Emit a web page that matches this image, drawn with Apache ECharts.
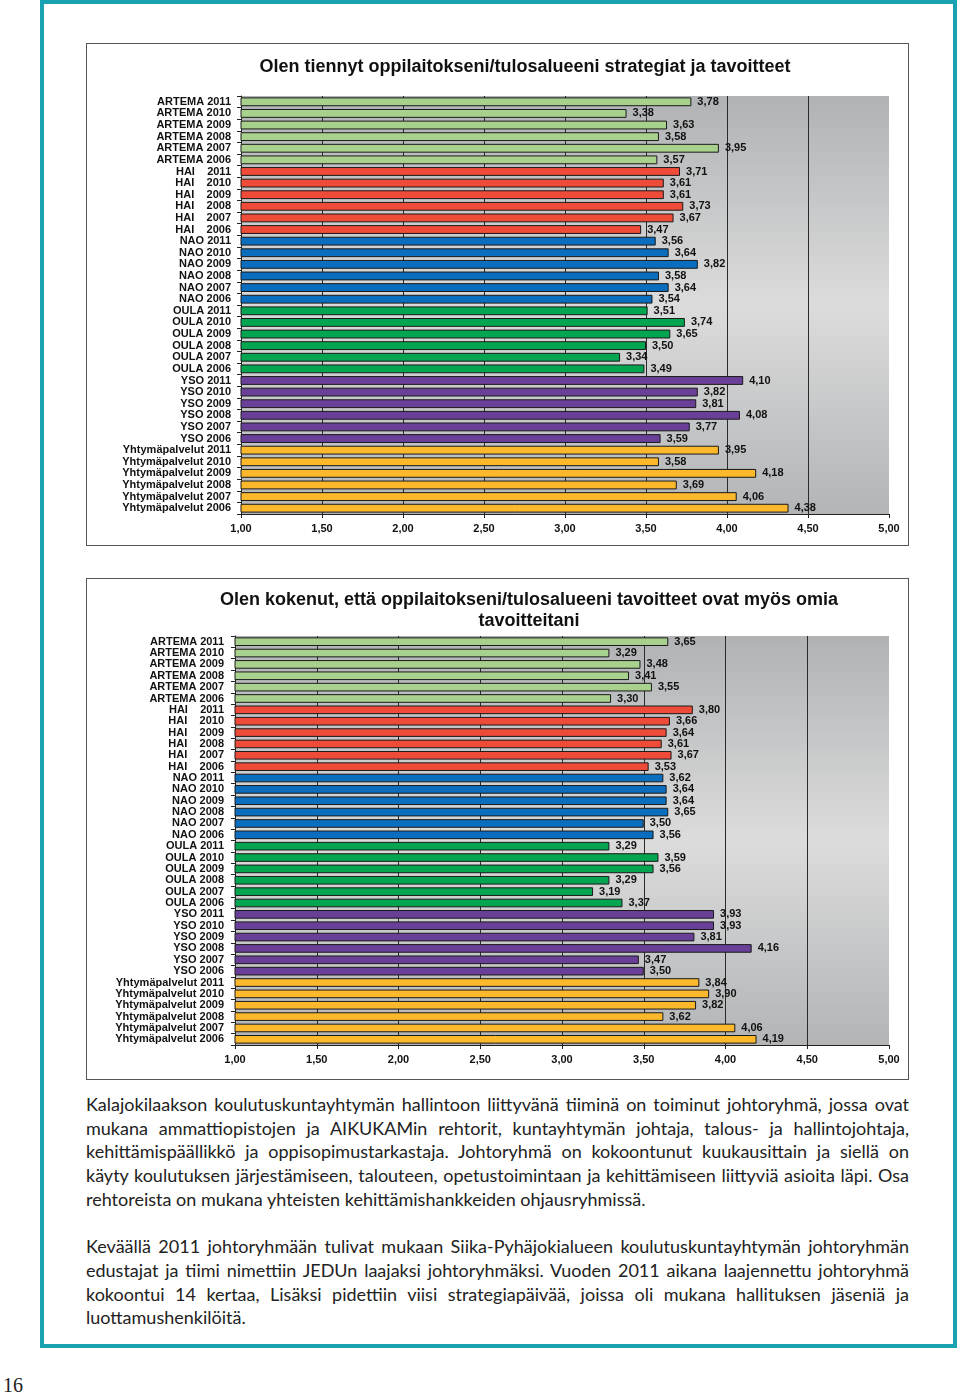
<!DOCTYPE html>
<html>
<head>
    <meta charset="UTF-8">
    <script type="text/javascript" src="https://cdn.jsdelivr.net/npm/echarts@6.0.0/dist/echarts.min.js"></script>
    <style>
        body { margin: 0; background: #fff; }
        #page { position: relative; width: 960px; height: 1395px; overflow: hidden; }
        #frame { position: absolute; left: 40px; top: 0; width: 909px; height: 1340px; border: 4px solid #19a2b1; }
        .box { position: absolute; left: 86px; width: 821px; border: 1px solid #555; }
        #myDiv { position: absolute; left: 0; top: 0; width: 960px; height: 1090px; }
        #text { position: absolute; left: 86px; top: 1093px; width: 823px; font-family: Lato, 'Open Sans', sans-serif; font-size: 18px; line-height: 23.7px; color: #222; }
        #text div { white-space: nowrap; text-align: justify; text-align-last: justify; }
        #text div.last { text-align-last: left; }
        #text .gap { height: 23.7px; }
        #pageNo { position: absolute; left: 3px; top: 1374px; font-family: 'Liberation Serif', serif; font-size: 20px; color: #222; }
    </style>
    <script type="text/javascript">
        // kategoriat
        var groups = ['ARTEMA', 'HAI', 'NAO', 'OULA', 'YSO', 'Yhtymäpalvelut'];
        var years = ['2011', '2010', '2009', '2008', '2007', '2006'];

        // Olen tiennyt oppilaitokseni/tulosalueeni strategiat ja tavoitteet
        var s1Artema = [3.78, 3.38, 3.63, 3.58, 3.95, 3.57];
        var s1Hai = [3.71, 3.61, 3.61, 3.73, 3.67, 3.47];
        var s1Nao = [3.56, 3.64, 3.82, 3.58, 3.64, 3.54];
        var s1Oula = [3.51, 3.74, 3.65, 3.50, 3.34, 3.49];
        var s1Yso = [4.10, 3.82, 3.81, 4.08, 3.77, 3.59];
        var s1Yhtyma = [3.95, 3.58, 4.18, 3.69, 4.06, 4.38];

        // Olen kokenut, että ... tavoitteet ovat myös omia tavoitteitani
        var s2Artema = [3.65, 3.29, 3.48, 3.41, 3.55, 3.30];
        var s2Hai = [3.80, 3.66, 3.64, 3.61, 3.67, 3.53];
        var s2Nao = [3.62, 3.64, 3.64, 3.65, 3.50, 3.56];
        var s2Oula = [3.29, 3.59, 3.56, 3.29, 3.19, 3.37];
        var s2Yso = [3.93, 3.93, 3.81, 4.16, 3.47, 3.50];
        var s2Yhtyma = [3.84, 3.90, 3.82, 3.62, 4.06, 4.19];

        var title1 = 'Olen tiennyt oppilaitokseni/tulosalueeni strategiat ja tavoitteet';
        var title2 = 'Olen kokenut, että oppilaitokseni/tulosalueeni tavoitteet ovat myös omia\ntavoitteitani';

        var groupColors = ['#a9d18e', '#ee4b39', '#0b6dbd', '#03a550', '#6a3f98', '#fdb82b'];
        var fontFam = "'Liberation Sans', Arial, sans-serif";

        function comma(v) {
            return Number(v).toFixed(2).replace('.', ',');
        }

        function buildCategories() {
            var cats = [];
            for (var g = 0; g < groups.length; g++) {
                for (var y = 0; y < years.length; y++) {
                    cats.push(groups[g] + (groups[g] === 'HAI' ? '    ' : ' ') + years[y]);
                }
            }
            return cats;
        }

        function buildData(lists) {
            var out = [];
            for (var g = 0; g < lists.length; g++) {
                for (var y = 0; y < lists[g].length; y++) {
                    out.push({ value: lists[g][y], itemStyle: { color: groupColors[g] } });
                }
            }
            return out;
        }

        function plotBg() {
            return new echarts.graphic.LinearGradient(0, 0, 0, 1, [
                { offset: 0, color: '#b0b2b4' },
                { offset: 0.5, color: '#dcdcdc' },
                { offset: 1, color: '#b2b4b6' }
            ]);
        }

        function makeX(idx) {
            var splitColors = [];
            for (var i = 0; i < 8; i++) splitColors.push('#2a2a2a');
            splitColors.push('rgba(0,0,0,0)');
            return {
                type: 'value', gridIndex: idx, min: 1, max: 5, interval: 0.5,
                axisLine: { show: true, lineStyle: { color: '#222', width: 1 } },
                axisTick: { show: true, length: 4, lineStyle: { color: '#222' } },
                splitLine: { show: true, lineStyle: { color: splitColors, width: 1 } },
                axisLabel: { margin: 9, fontSize: 11, fontWeight: 'bold', color: '#111', fontFamily: fontFam, formatter: comma }
            };
        }

        function makeY(idx, margin) {
            return {
                type: 'category', gridIndex: idx, inverse: true, data: buildCategories(),
                axisLine: { show: true, lineStyle: { color: '#222', width: 1 } },
                axisTick: { show: true, length: 4, interval: 0, lineStyle: { color: '#222' } },
                axisLabel: { interval: 0, margin: margin, fontSize: 11, fontWeight: 'bold', color: '#111', fontFamily: fontFam }
            };
        }

        function makeSeries(idx, lists) {
            return {
                type: 'bar', xAxisIndex: idx, yAxisIndex: idx,
                barCategoryGap: '24%',
                data: buildData(lists),
                itemStyle: { borderColor: '#1a1a1a', borderWidth: 1 },
                label: {
                    show: true, position: 'right', distance: 6,
                    fontSize: 11, fontWeight: 'bold', color: '#111', fontFamily: fontFam,
                    formatter: function (p) { return comma(p.value); }
                },
                silent: true
            };
        }

        function drawCharts() {
            var chart = echarts.init(document.getElementById('myDiv'));
            var option = {
                animation: false,
                graphic: [
                    { type: 'text', x: 525, y: 67, style: { text: title1, textAlign: 'center', textVerticalAlign: 'middle', fontSize: 18, fontWeight: 'bold', fontFamily: fontFam, fill: '#111' } },
                    { type: 'text', x: 529, y: 611, style: { text: title2, textAlign: 'center', textVerticalAlign: 'middle', lineHeight: 21, fontSize: 18, fontWeight: 'bold', fontFamily: fontFam, fill: '#111' } }
                ],
                grid: [
                    { left: 241, top: 96, width: 648, height: 418, show: true, borderWidth: 0, backgroundColor: plotBg() },
                    { left: 235, top: 636, width: 654, height: 409, show: true, borderWidth: 0, backgroundColor: plotBg() }
                ],
                xAxis: [makeX(0), makeX(1)],
                yAxis: [makeY(0, 10), makeY(1, 11)],
                series: [
                    makeSeries(0, [s1Artema, s1Hai, s1Nao, s1Oula, s1Yso, s1Yhtyma]),
                    makeSeries(1, [s2Artema, s2Hai, s2Nao, s2Oula, s2Yso, s2Yhtyma])
                ]
            };
            chart.setOption(option);
        }

        window.onload = drawCharts;
    </script>
</head>
<body>
<div id="page">
    <div id="frame"></div>
    <div class="box" style="top: 43px; height: 501px;"></div>
    <div class="box" style="top: 578px; height: 500px;"></div>
    <div id="myDiv"></div>
    <div id="text">
        <div>Kalajokilaakson koulutuskuntayhtymän hallintoon liittyvänä tiiminä on toiminut johtoryhmä, jossa ovat</div>
        <div>mukana ammattiopistojen ja AIKUKAMin rehtorit, kuntayhtymän johtaja, talous- ja hallintojohtaja,</div>
        <div>kehittämispäällikkö ja oppisopimustarkastaja. Johtoryhmä on kokoontunut kuukausittain ja siellä on</div>
        <div>käyty koulutuksen järjestämiseen, talouteen, opetustoimintaan ja kehittämiseen liittyviä asioita läpi. Osa</div>
        <div class="last">rehtoreista on mukana yhteisten kehittämishankkeiden ohjausryhmissä.</div>
        <div class="gap"></div>
        <div>Keväällä 2011 johtoryhmään tulivat mukaan Siika-Pyhäjokialueen koulutuskuntayhtymän johtoryhmän</div>
        <div>edustajat ja tiimi nimettiin JEDUn laajaksi johtoryhmäksi. Vuoden 2011 aikana laajennettu johtoryhmä</div>
        <div>kokoontui 14 kertaa, Lisäksi pidettiin viisi strategiapäivää, joissa oli mukana hallituksen jäseniä ja</div>
        <div class="last">luottamushenkilöitä.</div>
    </div>
    <div id="pageNo">16</div>
</div>
</body>
</html>
